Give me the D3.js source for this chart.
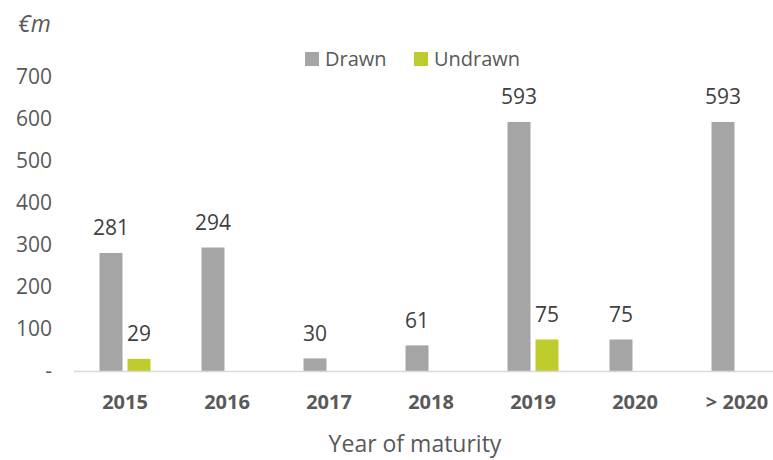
<!DOCTYPE html>
<html>
<head>
<meta charset="utf-8">
<script src="https://cdn.jsdelivr.net/npm/d3@7"></script>
<style>
  body { margin: 0; background: #fff; }
  svg { display: block; font-family: "Open Sans", sans-serif; }
</style>
</head>
<body>
<div id="chart"></div>
<script>
// Debt maturity profile - drawn vs undrawn
const years = ["2015", "2016", "2017", "2018", "2019", "2020", "> 2020"];
const drawn = [281, 294, 30, 61, 593, 75, 593];
const undrawn = [29, null, null, null, 75, null, null];
const yTicks = [0, 100, 200, 300, 400, 500, 600, 700];

const width = 773, height = 460;
const textColor = "#595959";
const colors = { drawn: "#A5A5A5", undrawn: "#BFCC2E" };

const svg = d3.select("#chart").append("svg")
    .attr("width", width)
    .attr("height", height);

const x = d3.scaleBand()
    .domain(years)
    .range([74, 788]);

const y = d3.scaleLinear()
    .domain([0, 700])
    .range([371, 77]);

const barW = 23, gap = 5;

// y tick labels
svg.selectAll(".ytick")
    .data(yTicks)
    .enter()
    .append("text")
    .attr("x", 52)
    .attr("y", d => y(d))
    .attr("dy", "0.35em")
    .attr("text-anchor", "end")
    .attr("font-size", 21)
    .attr("fill", textColor)
    .text(d => d === 0 ? "-" : d);

// €m unit
svg.append("text")
    .attr("x", 18)
    .attr("y", 24)
    .attr("dy", "0.35em")
    .attr("font-size", 23)
    .attr("font-style", "italic")
    .attr("fill", textColor)
    .text("€m");

// bars
const series = [
    { key: "drawn", values: drawn, offset: -(barW + gap) / 2 },
    { key: "undrawn", values: undrawn, offset: (barW + gap) / 2 }
];

series.forEach(s => {
    const pts = years.map((yr, i) => ({ yr, v: s.values[i] })).filter(d => d.v != null);
    svg.selectAll(`.bar-${s.key}`)
        .data(pts)
        .enter()
        .append("rect")
        .attr("x", d => x(d.yr) + x.bandwidth() / 2 + s.offset - barW / 2)
        .attr("y", d => y(d.v))
        .attr("width", barW)
        .attr("height", d => y(0) - y(d.v))
        .attr("fill", colors[s.key]);

    svg.selectAll(`.lbl-${s.key}`)
        .data(pts)
        .enter()
        .append("text")
        .attr("x", d => x(d.yr) + x.bandwidth() / 2 + s.offset)
        .attr("y", d => y(d.v) - 25)
        .attr("dy", "0.35em")
        .attr("text-anchor", "middle")
        .attr("font-size", 21)
        .attr("fill", "#404040")
        .text(d => d.v);
});

// axis line
svg.append("line")
    .attr("x1", 74)
    .attr("x2", width)
    .attr("y1", y(0) + 0.5)
    .attr("y2", y(0) + 0.5)
    .attr("stroke", "#D9D9D9")
    .attr("stroke-width", 1.5);

// category labels
svg.selectAll(".xlabel")
    .data(years)
    .enter()
    .append("text")
    .attr("x", d => x(d) + x.bandwidth() / 2)
    .attr("y", 402)
    .attr("dy", "0.35em")
    .attr("text-anchor", "middle")
    .attr("font-size", 20)
    .attr("font-weight", "bold")
    .attr("fill", textColor)
    .text(d => d);

// axis title
svg.append("text")
    .attr("x", 415)
    .attr("y", 444)
    .attr("dy", "0.35em")
    .attr("text-anchor", "middle")
    .attr("font-size", 23)
    .attr("fill", textColor)
    .text("Year of maturity");

// legend
const legend = [
    { name: "Drawn", color: colors.drawn, x: 305 },
    { name: "Undrawn", color: colors.undrawn, x: 414 }
];
const lg = svg.selectAll(".legend")
    .data(legend)
    .enter()
    .append("g")
    .attr("transform", d => `translate(${d.x},52)`);
lg.append("rect")
    .attr("width", 14)
    .attr("height", 14)
    .attr("fill", d => d.color);
lg.append("text")
    .attr("x", 20)
    .attr("y", 7)
    .attr("dy", "0.35em")
    .attr("font-size", 20)
    .attr("fill", textColor)
    .text(d => d.name);
</script>
</body>
</html>
